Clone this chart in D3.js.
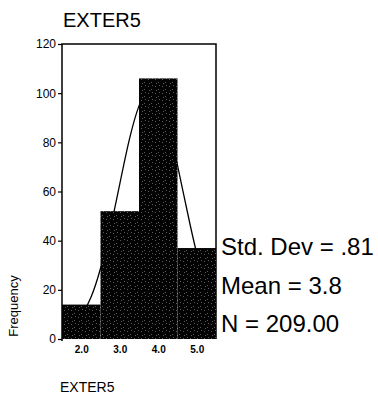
<!DOCTYPE html>
<html>
<head>
<meta charset="utf-8">
<script src="https://cdn.jsdelivr.net/npm/d3@7"></script>
<style>
  body { margin: 0; background: #fff; }
  svg { display: block; font-family: "Liberation Sans", Arial, sans-serif; }
</style>
</head>
<body>
<svg id="chart" width="378" height="397"></svg>
<script>
// histogram of EXTER5, bins of width 1
const binStarts = [1.5, 2.5, 3.5, 4.5];
const counts = [14, 52, 106, 37];
const xTicks = [2.0, 3.0, 4.0, 5.0];
const yTicks = [0, 20, 40, 60, 80, 100, 120];
// normal curve
const curveX = [1.5, 1.75, 2.0, 2.25, 2.5, 2.75, 3.0, 3.25, 3.5, 3.75, 4.0, 4.25, 4.5, 4.75, 5.0, 5.25, 5.5];
const curveY = [2, 4, 9, 16, 28, 44, 63, 82, 96, 103, 100, 88, 71, 52, 34, 21, 11];
const stats = ["Std. Dev = .81", "Mean = 3.8", "N = 209.00"];

const svg = d3.select("#chart");
const plotL = 62, plotR = 216, plotT = 44, plotB = 339;

const x = d3.scaleLinear().domain([1.5, 5.5]).range([plotL, plotR]);
const y = d3.scaleLinear().domain([0, 120]).range([plotB, plotT]);

// speckled dark fill like the scanned print
const defs = svg.append("defs");
const pat = defs.append("pattern")
    .attr("id", "speck")
    .attr("patternUnits", "userSpaceOnUse")
    .attr("width", 7).attr("height", 7);
pat.append("rect").attr("width", 7).attr("height", 7).attr("fill", "#030303");
[[1, 2], [4, 5], [5, 1], [2, 6]].forEach(p => {
    pat.append("rect").attr("x", p[0]).attr("y", p[1])
        .attr("width", 1).attr("height", 1).attr("fill", "#5a5a5a");
});

// frame
svg.append("path")
    .attr("d", `M${plotL},${plotB + 2}V${plotT}H${plotR}V${plotB}`)
    .attr("fill", "none").attr("stroke", "#000").attr("stroke-width", 1.5);

// normal curve (behind bars)
const line = d3.line()
    .x((d, i) => x(curveX[i]))
    .y(d => y(d))
    .curve(d3.curveBasis);
svg.append("path")
    .datum(curveY)
    .attr("d", line)
    .attr("fill", "none").attr("stroke", "#000").attr("stroke-width", 1.3);

// bars
svg.selectAll("rect.bar")
    .data(counts)
    .enter()
    .append("rect")
    .attr("class", "bar")
    .attr("x", (d, i) => x(binStarts[i]))
    .attr("width", (d, i) => x(binStarts[i] + 1) - x(binStarts[i]))
    .attr("y", d => y(d))
    .attr("height", d => y(0) - y(d))
    .attr("fill", "url(#speck)");

// y axis
const yAxis = svg.append("g")
    .attr("transform", `translate(${plotL},0)`)
    .call(d3.axisLeft(y).tickValues(yTicks).tickSize(4).tickPadding(2).tickFormat(d3.format("d")));
yAxis.select(".domain").remove();
yAxis.selectAll("line").attr("stroke-width", 1.2);
yAxis.selectAll("text").attr("font-size", 12).attr("fill", "#000")
    .attr("font-family", "Liberation Sans, Arial, sans-serif");

// x axis
const xAxis = svg.append("g")
    .attr("transform", `translate(0,${plotB})`)
    .call(d3.axisBottom(x).tickValues(xTicks).tickSize(0).tickPadding(7).tickFormat(d3.format(".1f")));
xAxis.select(".domain").remove();
xAxis.selectAll("text").attr("font-size", 10).attr("font-weight", "bold").attr("fill", "#000")
    .attr("font-family", "Liberation Sans, Arial, sans-serif");

// titles
svg.append("text").attr("x", 63).attr("y", 27)
    .attr("font-size", 20).text("EXTER5");
svg.append("text").attr("x", 60).attr("y", 392)
    .attr("font-size", 14).text("EXTER5");
svg.append("text")
    .attr("transform", "translate(18,306) rotate(-90)")
    .attr("text-anchor", "middle")
    .attr("font-size", 13).text("Frequency");

// stats
svg.selectAll("text.stat")
    .data(stats)
    .enter()
    .append("text")
    .attr("class", "stat")
    .attr("x", 221)
    .attr("y", (d, i) => 255 + i * 38.5)
    .attr("font-size", 24)
    .text(d => d);
</script>
</body>
</html>
